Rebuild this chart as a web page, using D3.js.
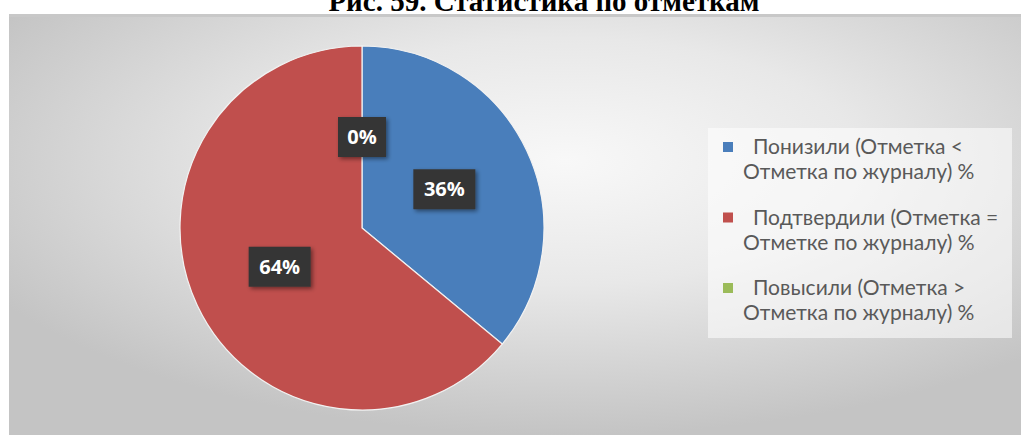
<!DOCTYPE html>
<html lang="ru">
<head>
	<meta charset="utf-8">
	<title>Статистика по отметкам</title>
	<script type="text/javascript" src="https://cdn.jsdelivr.net/npm/d3@7"></script>
	<style>
		body { margin: 0; background: #ffffff; }
	</style>
</head>
<body>
	<div id="chart">
		<script type="text/javascript">

			// Data
			var categories = ["Понизили (Отметка < Отметка по журналу) %",
			                  "Подтвердили (Отметка = Отметке по журналу) %",
			                  "Повысили (Отметка > Отметка по журналу) %"];
			var legendLines = [["Понизили (Отметка <", "Отметка по журналу) %"],
			                   ["Подтвердили (Отметка =", "Отметке по журналу) %"],
			                   ["Повысили (Отметка >", "Отметка по журналу) %"]];
			var values = [36, 64, 0];
			var labels = ["36%", "64%", "0%"];
			var colors = ["#4a7ebb", "#c0504d", "#9bbb59"];
			var title = "Рис. 59. Статистика по отметкам";

			var width = 1021;
			var height = 435;

			var svg = d3.select("#chart")
				.append("svg")
				.attr("width", width)
				.attr("height", height);

			var defs = svg.append("defs");

			// radial grey background like the office chart area
			var grad = defs.append("radialGradient")
				.attr("id", "bg")
				.attr("cx", "55%")
				.attr("cy", "35%")
				.attr("r", "65%");
			grad.append("stop").attr("offset", "0%").attr("stop-color", "#f8f8f8");
			grad.append("stop").attr("offset", "45%").attr("stop-color", "#e8e8e8");
			grad.append("stop").attr("offset", "100%").attr("stop-color", "#c4c4c4");

			var shadow = defs.append("filter")
				.attr("id", "shadow")
				.attr("x", "-30%").attr("y", "-30%")
				.attr("width", "160%").attr("height", "160%");
			shadow.append("feDropShadow")
				.attr("dx", 2).attr("dy", 2)
				.attr("stdDeviation", 2)
				.attr("flood-color", "#000")
				.attr("flood-opacity", 0.45);

			var soft = defs.append("filter")
				.attr("id", "soft")
				.attr("x", "-10%").attr("y", "-10%")
				.attr("width", "120%").attr("height", "120%");
			soft.append("feGaussianBlur").attr("stdDeviation", 0.6);

			// chart area
			svg.append("rect")
				.attr("x", 9)
				.attr("y", 14)
				.attr("width", width - 9)
				.attr("height", height - 14)
				.attr("fill", "url(#bg)");
			svg.append("rect")
				.attr("x", 9)
				.attr("y", 14)
				.attr("width", width - 9)
				.attr("height", 3)
				.attr("fill", "#c8c8c8");

			// title, its top is cut as in the source image
			svg.append("text")
				.attr("x", 544)
				.attr("y", 11)
				.attr("text-anchor", "middle")
				.style("font-family", "'Liberation Serif', 'Times New Roman', serif")
				.style("font-weight", "bold")
				.style("font-size", "29px")
				.attr("fill", "#000")
				.text(title);

			// pie
			var cx = 362, cy = 228, radius = 182;

			var pie = d3.pie()
				.sort(null)
				.value(function(d){ return d; });

			var arc = d3.arc()
				.innerRadius(0)
				.outerRadius(radius);

			var g = svg.append("g")
				.attr("transform", "translate(" + cx + "," + cy + ")");

			var arcs = pie(values);

			g.selectAll("path")
				.data(arcs)
				.enter()
					.append("path")
					.attr("d", arc)
					.attr("fill", function(d, i){ return colors[i]; })
					.attr("stroke", "#f2f2f2")
					.attr("stroke-width", 1.2)
					.attr("filter", "url(#soft)");

			// data labels in dark boxes at the centroid
			var lab = g.selectAll("g.lab")
				.data(arcs)
				.enter()
					.append("g")
					.attr("class", "lab")
					.attr("transform", function(d){
						var c = arc.centroid(d);
						return "translate(" + c[0] + "," + c[1] + ")";
					});

			lab.append("rect")
				.attr("x", function(d, i){ return labels[i].length > 2 ? -31 : -24; })
				.attr("y", -20)
				.attr("width", function(d, i){ return labels[i].length > 2 ? 62 : 48; })
				.attr("height", 40)
				.attr("fill", "#363636")
				.attr("filter", "url(#shadow)");

			lab.append("text")
				.attr("text-anchor", "middle")
				.attr("dy", "0.36em")
				.style("font-family", "'Open Sans', sans-serif")
				.style("font-weight", "bold")
				.style("font-size", "20px")
				.attr("fill", "#ffffff")
				.text(function(d, i){ return labels[i]; });

			// legend
			var legend = svg.append("g");
			legend.append("rect")
				.attr("x", 708)
				.attr("y", 128)
				.attr("width", 304)
				.attr("height", 210)
				.attr("fill", "#ffffff")
				.attr("opacity", 0.55);

			var items = legend.selectAll("g.item")
				.data(categories)
				.enter()
					.append("g")
					.attr("class", "item")
					.attr("transform", function(d, i){ return "translate(0," + (147 + i * 70.5) + ")"; });

			items.append("rect")
				.attr("x", 723)
				.attr("y", -5)
				.attr("width", 10)
				.attr("height", 10)
				.attr("fill", function(d, i){ return colors[i]; });

			items.append("text")
				.attr("x", 753)
				.attr("dy", "0.35em")
				.style("font-family", "Lato, sans-serif")
				.style("font-size", "21px")
				.attr("fill", "#595959")
				.text(function(d, i){ return legendLines[i][0]; });

			items.append("text")
				.attr("x", 743)
				.attr("y", 25)
				.attr("dy", "0.35em")
				.style("font-family", "Lato, sans-serif")
				.style("font-size", "21px")
				.attr("fill", "#595959")
				.text(function(d, i){ return legendLines[i][1]; });

		</script>
	</div>
</body>
</html>
